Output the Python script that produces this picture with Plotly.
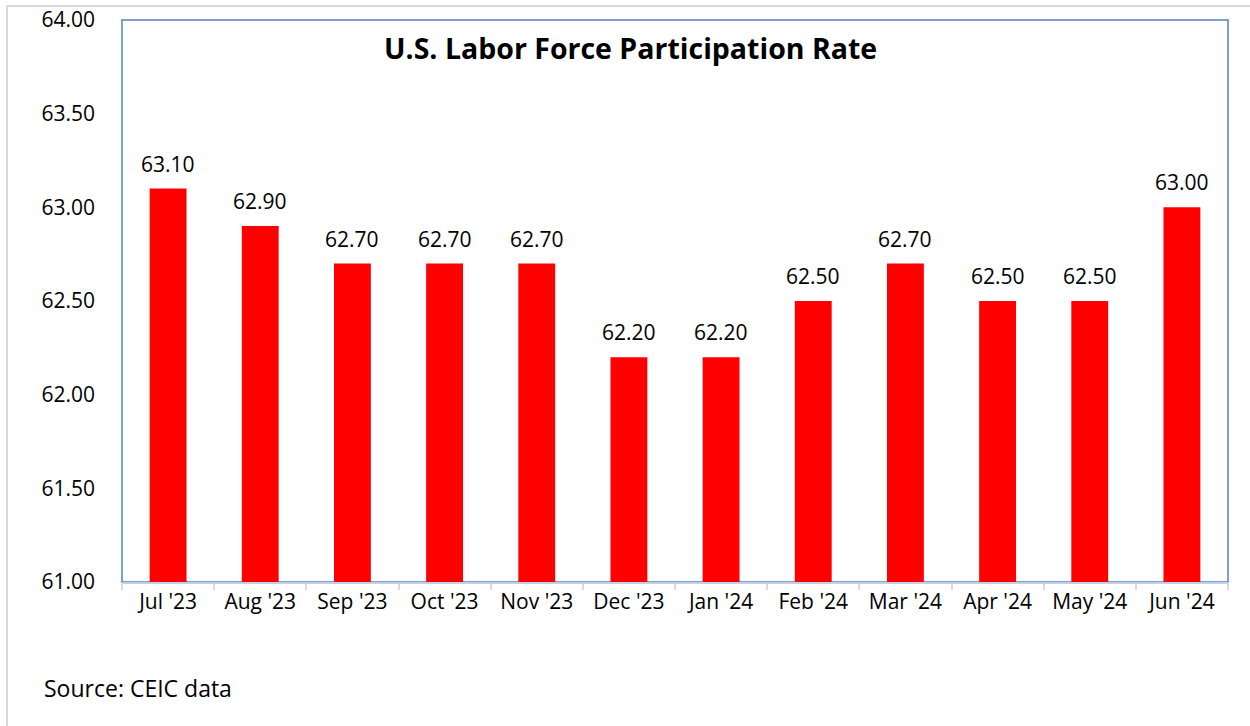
import plotly.graph_objects as go

categories = ["Jul '23", "Aug '23", "Sep '23", "Oct '23", "Nov '23", "Dec '23",
              "Jan '24", "Feb '24", "Mar '24", "Apr '24", "May '24", "Jun '24"]
values = [63.10, 62.90, 62.70, 62.70, 62.70, 62.20, 62.20, 62.50, 62.70, 62.50, 62.50, 63.00]
y_ticks = [61.0, 61.5, 62.0, 62.5, 63.0, 63.5, 64.0]

FONT = "'Open Sans', Lato, sans-serif"

W, H = 1250, 726
PL, PR, PT, PB = 122, 1228, 20, 582
PW, PH = PR - PL, PB - PT

fig = go.Figure()
fig.add_trace(go.Bar(x=categories, y=values, marker=dict(color="#ff0000", line=dict(width=0)),
                     width=0.4, hoverinfo="x+y"))

annotations = []
for c, v in zip(categories, values):
    annotations.append(dict(x=c, y=v, xref="x", yref="y", text=f"{v:.2f}", showarrow=False,
                            yanchor="bottom", yshift=9, font=dict(size=21, color="#000000", family=FONT)))
annotations.append(dict(x=(630 - PL) / PW, y=1.0, xref="paper", yref="paper", yanchor="middle",
                        yshift=-28, text="<b>U.S. Labor Force Participation Rate</b>", showarrow=False,
                        font=dict(size=28.5, color="#000000", family=FONT)))
annotations.append(dict(x=0, y=0, xref="paper", yref="paper", xanchor="left", yanchor="middle",
                        xshift=42 - PL, yshift=-(688 - PB), text="Source: CEIC data", showarrow=False,
                        font=dict(size=23, color="#000000", family=FONT)))

fig.update_layout(
    width=W, height=H,
    margin=dict(l=PL, r=W - PR, t=PT, b=H - PB, autoexpand=False),
    paper_bgcolor="#ffffff", plot_bgcolor="#ffffff",
    showlegend=False,
    font=dict(family=FONT, size=21, color="#000000"),
    annotations=annotations,
    xaxis=dict(type="category", range=[-0.5, 11.5], showgrid=False, showline=True,
               linecolor="#c3d0e4", linewidth=2, ticks="outside", tickson="boundaries",
               ticklen=6, tickcolor="#d9d9d9", tickwidth=2, automargin=False,
               tickfont=dict(size=21, color="#000000", family=FONT), zeroline=False),
    yaxis=dict(range=[61, 64], tickvals=y_ticks, ticktext=[f"{t:.2f}" for t in y_ticks],
               showgrid=False, zeroline=False, showline=False, ticks="",
               ticklabelstandoff=26, ticklabeloverflow="allow", automargin=False,
               tickfont=dict(size=21, color="#000000", family=FONT)),
    shapes=[
        dict(type="rect", xref="paper", yref="paper", x0=0, x1=1, y0=0, y1=1,
             line=dict(color="#7f9fcf", width=2), layer="below"),
        dict(type="rect", xref="paper", yref="paper",
             x0=(7 - PL) / PW, x1=(1262 - PL) / PW,
             y0=(PB - 740) / PH, y1=(PB - 6) / PH,
             line=dict(color="#d9d9d9", width=2), layer="below"),
    ],
)

fig.write_html(
    "out.html",
    config={"displayModeBar": False},
    post_script="document.body.style.margin='0';document.body.style.overflow='hidden';",
)
